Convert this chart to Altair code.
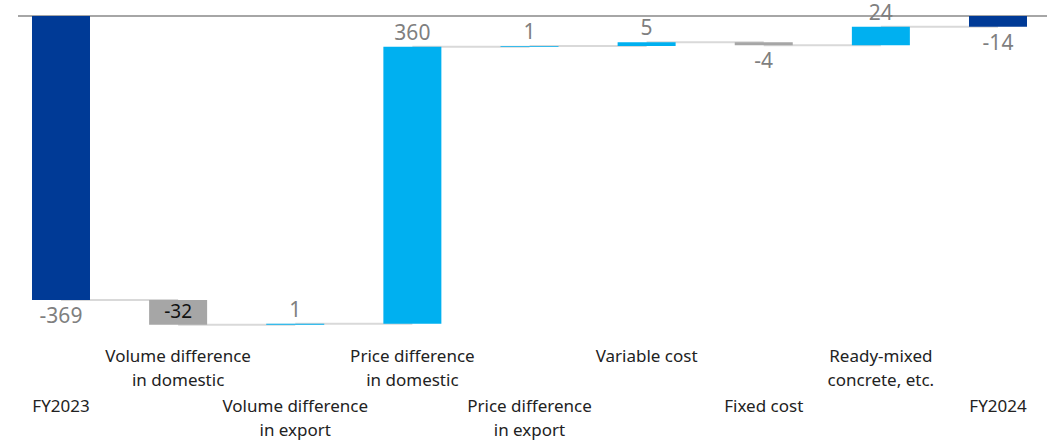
import altair as alt
import pandas as pd

# ---- data ----
categories = [
    "FY2023",
    "Volume difference\nin domestic",
    "Volume difference\nin export",
    "Price difference\nin domestic",
    "Price difference\nin export",
    "Variable cost",
    "Fixed cost",
    "Ready-mixed\nconcrete, etc.",
    "FY2024",
]
values = [-369, -32, 1, 360, 1, 5, -4, 24, -14]
kinds = ["total", "delta", "delta", "delta", "delta", "delta", "delta", "delta", "total"]
label_pos = ["below", "inside", "above", "above", "above", "above", "below", "above", "below"]

# ---- build waterfall table ----
rows = []
running = 0
for i, (cat, v, k, lp) in enumerate(zip(categories, values, kinds, label_pos)):
    if k == "total":
        start, end = 0, v
        running = v
        color = "#003A96"
    else:
        start, end = running, running + v
        running = end
        color = "#00B0F0" if v > 0 else "#A6A6A6"
    rows.append(dict(idx=i, cat=cat, value=v, start=start, end=end,
                     top=max(start, end), bottom=min(start, end),
                     mid=(start + end) / 2, color=color, pos=lp,
                     label=str(v), row="upper" if i % 2 else "lower"))
df = pd.DataFrame(rows)

conn = pd.DataFrame([
    dict(x=i, x2=i + 1, level=df.loc[i, "end"]) for i in range(len(df) - 1)
])

xs = alt.Scale(domain=[-0.5208, 8.444], nice=False, zero=False, padding=0)
ys = alt.Scale(domain=[-552.2, 20.79], nice=False, zero=False, padding=0)
X = lambda f: alt.X(f, scale=xs, axis=None)
Y = lambda f: alt.Y(f, scale=ys, axis=None)

base = alt.Chart(df)

connectors = alt.Chart(conn).mark_rule(color="#D9D9D9", strokeWidth=2).encode(
    x=X("x:Q"), x2="x2:Q", y=Y("level:Q"))

zero_line = alt.Chart(df).mark_rule(color="#A6A6A6", strokeWidth=1.5).encode(
    x=alt.value(18), x2=alt.value(1047), y=alt.Y(datum=0, scale=ys, axis=None))

bars = base.mark_bar(size=58).encode(
    x=X("idx:Q"), y=Y("start:Q"), y2="end:Q",
    color=alt.Color("color:N", scale=None))

lab_font = "Noto Sans"
above = base.transform_filter("datum.pos == 'above'").mark_text(
    font=lab_font, fontSize=21, color="#7F7F7F", baseline="middle", dy=-13).encode(
    x=X("idx:Q"), y=Y("top:Q"), text="label:N")
below = base.transform_filter("datum.pos == 'below'").mark_text(
    font=lab_font, fontSize=21, color="#7F7F7F", baseline="middle", dy=17).encode(
    x=X("idx:Q"), y=Y("bottom:Q"), text="label:N")
inside = base.transform_filter("datum.pos == 'inside'").mark_text(
    font=lab_font, fontSize=19, color="#111111", baseline="middle").encode(
    x=X("idx:Q"), y=Y("mid:Q"), text="label:N")

cat_upper = base.transform_filter("datum.row == 'upper'").mark_text(
    font=lab_font, fontSize=17, color="#222222", baseline="alphabetic",
    lineBreak="\n", lineHeight=24).encode(
    x=X("idx:Q"), y=alt.value(362), text="cat:N")
cat_lower = base.transform_filter("datum.row == 'lower'").mark_text(
    font=lab_font, fontSize=17, color="#222222", baseline="alphabetic",
    lineBreak="\n", lineHeight=24).encode(
    x=X("idx:Q"), y=alt.value(412), text="cat:N")

chart = alt.layer(connectors, zero_line, bars, above, below, inside,
                  cat_upper, cat_lower).properties(
    width=1050, height=441,
    autosize=alt.AutoSizeParams(type="none"),
    padding=0,
    background="white",
).configure_view(stroke=None)

chart.save("out.html", embed_options={"renderer": "svg", "actions": False})
